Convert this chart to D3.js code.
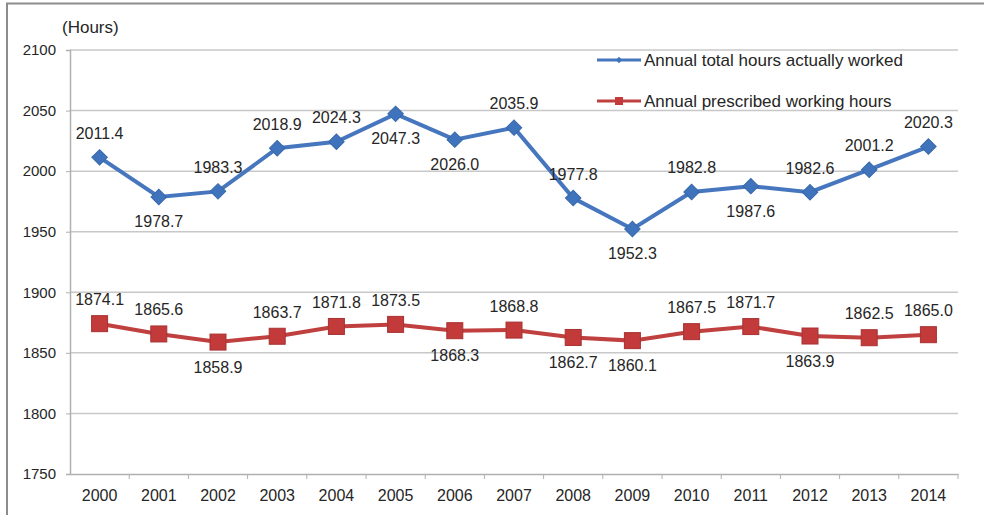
<!DOCTYPE html>
<html><head><meta charset="utf-8">
<script src="https://cdn.jsdelivr.net/npm/d3@7"></script>
<style>
html,body{margin:0;padding:0;background:#fff;}
text{font-family:"Liberation Sans",Arial,sans-serif;fill:#262626;}
</style></head>
<body><svg id="c" width="984" height="515"></svg>
<script>
const years = ["2000","2001","2002","2003","2004","2005","2006","2007","2008","2009","2010","2011","2012","2013","2014"];
const actualHours = [2011.4,1978.7,1983.3,2018.9,2024.3,2047.3,2026.0,2035.9,1977.8,1952.3,1982.8,1987.6,1982.6,2001.2,2020.3];
const prescribedHours = [1874.1,1865.6,1858.9,1863.7,1871.8,1873.5,1868.3,1868.8,1862.7,1860.1,1867.5,1871.7,1863.9,1862.5,1865.0];
const actualLabelSide = ["a","b","a","a","a","b","b","a","a","b","a","b","a","a","a"];
const prescribedLabelSide = ["a","a","b","a","a","a","b","a","b","b","a","a","b","a","a"];
const yTicks = [1750,1800,1850,1900,1950,2000,2050,2100];
const seriesNames = ["Annual total hours actually worked","Annual prescribed working hours"];

const svg = d3.select("#c");
const L = 70, R = 958, T = 50, B = 474;
const x = d3.scaleBand().domain(years).range([L, R]).padding(0);
const y = d3.scaleLinear().domain([1750, 2100]).range([B, T]);

// frame
svg.append("path").attr("d", `M7,515 L7,3.5 L984,3.5`).attr("fill","none").attr("stroke","#8c8c8c").attr("stroke-width",2);

// gridlines
svg.append("g").selectAll("line").data(yTicks.filter(d=>d>1750)).join("line")
  .attr("x1", L).attr("x2", R).attr("y1", d=>y(d)).attr("y2", d=>y(d))
  .attr("stroke","#c8c8c8").attr("stroke-width",1.5);

// y axis
const yAxis = svg.append("g").attr("transform",`translate(${L},0)`)
  .call(d3.axisLeft(y).tickValues(yTicks).tickSize(4).tickPadding(10).tickFormat(d3.format("d")));
yAxis.select(".domain").attr("stroke","#b0b0b0").attr("stroke-width",1.5);
yAxis.selectAll(".tick line").attr("stroke","#b0b0b0");
yAxis.selectAll("text").attr("font-size",15).attr("fill","#262626").style("font-family","Liberation Sans, Arial");

// x axis
const xAxis = svg.append("g").attr("transform",`translate(0,${B})`)
  .call(d3.axisBottom(x).tickSize(0).tickPadding(16).tickSizeOuter(0));
xAxis.select(".domain").attr("stroke","#b0b0b0").attr("stroke-width",1.5);
xAxis.selectAll("text").attr("font-size",16).attr("fill","#262626").style("font-family","Liberation Sans, Arial");
svg.append("g").selectAll("line").data(years.slice(1).concat(["end"])).join("line")
  .attr("x1", d=> d==="end" ? R : x(d)).attr("x2", d=> d==="end" ? R : x(d))
  .attr("y1", B).attr("y2", B+5).attr("stroke","#b0b0b0").attr("stroke-width",1);

// units label
svg.append("text").attr("x", 62).attr("y", 27).attr("dominant-baseline","central").attr("font-size",17).text("(Hours)");

const cx = d => x(d) + x.bandwidth()/2;
const line = d3.line().x(d=>cx(d[0])).y(d=>y(d[1]));

const blue = "#4677be", blueM = "#3f74bd";
const red = "#c0403f", redM = "#c23a3a";

const aData = years.map((d,i)=>[d, actualHours[i]]);
const pData = years.map((d,i)=>[d, prescribedHours[i]]);

svg.append("path").datum(aData).attr("d", line).attr("fill","none").attr("stroke",blue).attr("stroke-width",4);
svg.append("path").datum(pData).attr("d", line).attr("fill","none").attr("stroke",red).attr("stroke-width",4);

svg.append("g").selectAll("path").data(aData).join("path")
  .attr("transform", d=>`translate(${cx(d[0])},${y(d[1])}) rotate(45)`)
  .attr("d", d3.symbol().type(d3.symbolSquare).size(120))
  .attr("fill", blueM).attr("stroke","#3868aa").attr("stroke-width",1);
svg.append("g").selectAll("rect").data(pData).join("rect")
  .attr("x", d=>cx(d[0])-8).attr("y", d=>y(d[1])-8).attr("width",16).attr("height",16)
  .attr("fill", redM).attr("stroke","#a83232").attr("stroke-width",1);

function labels(data, sides){
  svg.append("g").selectAll("text").data(data).join("text")
    .attr("x", d=>cx(d[0]))
    .attr("y", (d,i)=> y(d[1]) + (sides[i]==="a" ? -24 : 25))
    .attr("dominant-baseline","central")
    .attr("text-anchor","middle").attr("font-size",16)
    .text(d=>d3.format(".1f")(d[1]));
}
labels(aData, actualLabelSide);
labels(pData, prescribedLabelSide);

// legend
const leg = svg.append("g");
[[blue, blueM, 60, "d"], [red, redM, 101, "s"]].forEach((c,i)=>{
  leg.append("line").attr("x1",597).attr("x2",641).attr("y1",c[2]).attr("y2",c[2]).attr("stroke",c[0]).attr("stroke-width",3);
  if(c[3]==="d"){
    leg.append("path").attr("transform",`translate(619,${c[2]}) rotate(45)`).attr("d", d3.symbol().type(d3.symbolSquare).size(20)).attr("fill",c[1]);
  } else {
    leg.append("rect").attr("x",615).attr("y",c[2]-4).attr("width",8).attr("height",8).attr("fill",c[1]);
  }
  leg.append("text").attr("x",644).attr("y",c[2]).attr("dominant-baseline","central").attr("font-size",17).text(seriesNames[i]);
});
</script></body></html>
